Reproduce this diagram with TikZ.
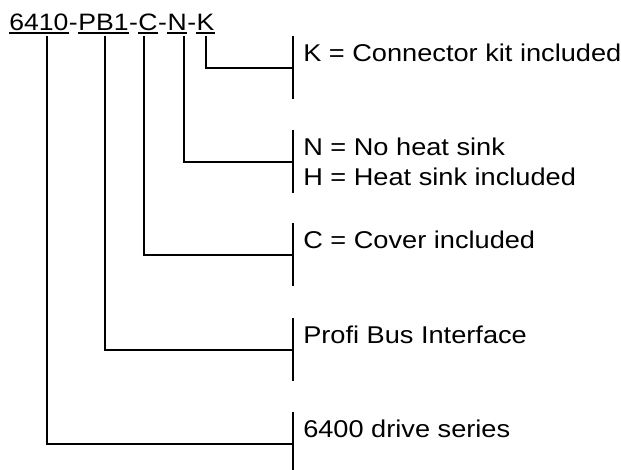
\documentclass[tikz,border=0pt]{standalone}
\usepackage{fontspec}
\newfontfamily\partfont{Liberation Sans}[FakeStretch=1.12]
\usepackage{tikz}
\usetikzlibrary{positioning}

\begin{document}
\begin{tikzpicture}[
    x=0.75pt, y=-0.75pt,
    code/.style={inner sep=0pt, anchor=base west, font=\partfont\fontsize{17.8}{22.5}\selectfont},
    optlabel/.style={code, font=\partfont\fontsize{18.2}{22.5}\selectfont},
    uline/.style={line width=1.1pt},
    lead/.style={line width=1.5pt},
    bar/.style={line width=1.5pt}
]
\useasboundingbox (0,0) rectangle (621,470);

    % part number, one node per field
    \node [code] (p6410) at (9,31) {6410};
    \node [code, right=0pt of p6410.base east, anchor=base west] (d1) {-};
    \node [code, right=0pt of d1.base east, anchor=base west] (pPB1) {PB1};
    \node [code, right=0pt of pPB1.base east, anchor=base west] (d2) {-};
    \node [code, right=0pt of d2.base east, anchor=base west] (pC) {C};
    \node [code, right=0pt of pC.base east, anchor=base west] (d3) {-};
    \node [code, right=0pt of d3.base east, anchor=base west] (pN) {N};
    \node [code, right=0pt of pN.base east, anchor=base west] (d4) {-};
    \node [code, right=0pt of d4.base east, anchor=base west] (pK) {K};

    \foreach \p in {p6410,pPB1,pC,pN,pK}
        \draw [uline] ([yshift=-1.5pt]\p.base west) -- ([yshift=-1.5pt]\p.base east);

    % junctions on the bars
    \coordinate (jK) at (293,68);
    \coordinate (jN) at (293,162);
    \coordinate (jC) at (293,255);
    \coordinate (jPB) at (293,350);
    \coordinate (jSer) at (293,444);

    \foreach \j in {jK,jN,jC,jPB,jSer}
        \draw [bar] ([yshift=24pt]\j) -- ([yshift=-23.5pt]\j);

    % option texts
    \node [optlabel] (lK) at ([xshift=7.5pt,yshift=5.2pt]jK) {K = Connector kit included};
    \node [optlabel] (lN) at ([xshift=7.5pt,yshift=5.2pt]jN) {N = No heat sink};
    \node [optlabel] (lH) at ([yshift=-22.5pt]lN.base west) {H = Heat sink included};
    \node [optlabel] (lC) at ([xshift=7.5pt,yshift=5.2pt]jC) {C = Cover included};
    \node [optlabel] (lPB) at ([xshift=7.5pt,yshift=5.2pt]jPB) {Profi Bus Interface};
    \node [optlabel] (lSer) at ([xshift=7.5pt,yshift=5.2pt]jSer) {6400 drive series};

    % leads from the fields
    \draw [lead] ([yshift=-3.75pt]pK.base) |- (jK);
    \draw [lead] ([xshift=4.8pt,yshift=-3.75pt]pN.base) |- (jN);
    \draw [lead] ([xshift=-2.7pt,yshift=-3.75pt]pC.base) |- (jC);
    \draw [lead] ([xshift=1.5pt,yshift=-3.75pt]pPB1.base) |- (jPB);
    \draw [lead] ([xshift=6.4pt,yshift=-3.75pt]p6410.base) |- (jSer);
\end{tikzpicture}
\end{document}
